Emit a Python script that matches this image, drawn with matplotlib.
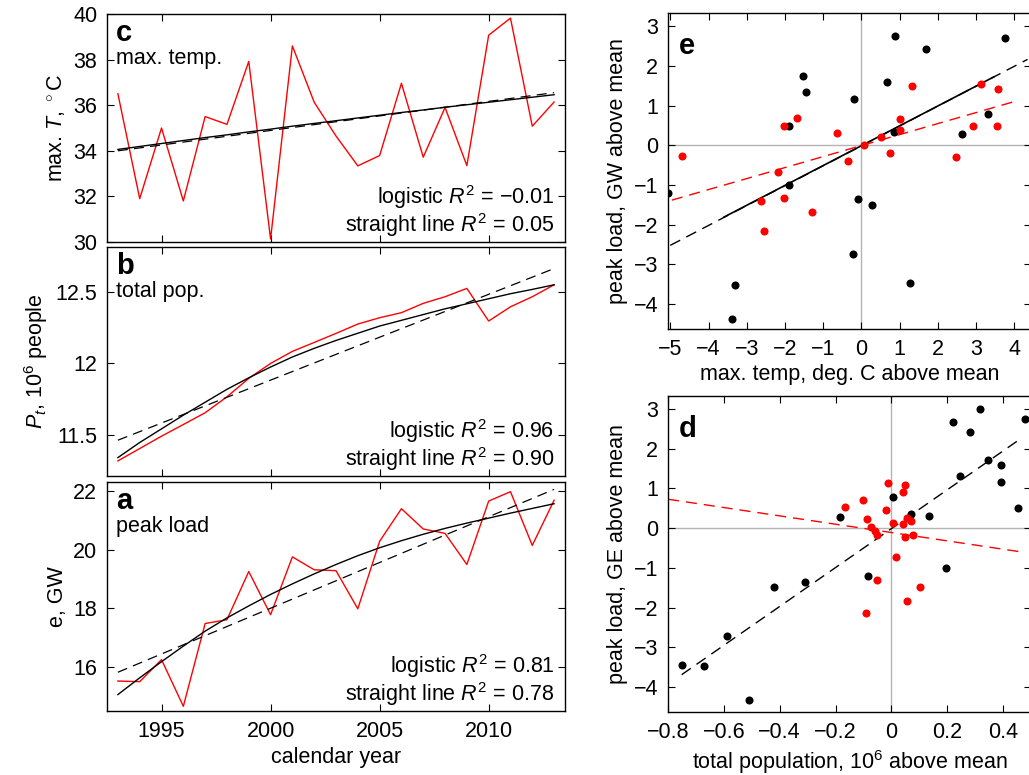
import numpy as np
import matplotlib
matplotlib.use("Agg")
from matplotlib import pyplot as plt

plt.rcParams["font.family"] = ["Liberation Sans", "DejaVu Sans"]
plt.rcParams["mathtext.fontset"] = "custom"
plt.rcParams["mathtext.rm"] = "Liberation Sans"
plt.rcParams["mathtext.it"] = "Liberation Sans:italic"
plt.rcParams["axes.unicode_minus"] = True

# time series, 1993-2013
years = list(range(1993, 2014))
max_temp = [36.5, 31.9, 35.0, 31.8, 35.5, 35.16, 37.92, 30.13, 38.6, 36.13, 34.65,
            33.34, 33.79, 36.96, 33.72, 35.9, 33.35, 39.07, 39.82, 35.08, 36.14]
temp_logistic = [34.06, 34.19, 34.32, 34.45, 34.58, 34.70, 34.83, 34.95, 35.08, 35.20, 35.32,
                 35.44, 35.56, 35.68, 35.79, 35.91, 36.02, 36.13, 36.24, 36.35, 36.46]
temp_line = [34.0, 36.55]

total_pop = [11.322, 11.408, 11.494, 11.575, 11.657, 11.768, 11.896, 12.0, 12.084, 12.146, 12.209,
             12.274, 12.318, 12.353, 12.418, 12.464, 12.522, 12.295, 12.394, 12.464, 12.547]
pop_logistic = [11.345, 11.45, 11.545, 11.64, 11.73, 11.82, 11.90, 11.975, 12.045, 12.105, 12.16,
                12.21, 12.26, 12.30, 12.34, 12.38, 12.415, 12.45, 12.485, 12.515, 12.547]
pop_line = [11.466, 12.66]

peak_load = [15.52, 15.5, 16.25, 14.66, 17.48, 17.61, 19.25, 17.78, 19.75, 19.31, 19.28,
             17.98, 20.28, 21.39, 20.7, 20.55, 19.49, 21.65, 21.97, 20.14, 21.68]
load_logistic = [15.06, 15.63, 16.18, 16.71, 17.22, 17.67, 18.08, 18.47, 18.83, 19.17, 19.49,
                 19.79, 20.06, 20.30, 20.52, 20.72, 20.90, 21.07, 21.24, 21.40, 21.56]
load_line = [15.82, 22.05]

# anomalies vs max. temp (panel e)
e_black_x = [-5.05, -1.54, -1.46, -1.90, -1.90, -0.20, -0.10, 0.88, 0.68, 0.86, 1.69,
             2.64, 3.32, 3.76, -0.22, 0.28, -3.30, -3.39, 1.28]
e_black_y = [-1.21, 1.75, 1.34, 0.50, -1.0, 1.17, -1.35, 2.77, 1.60, 0.34, 2.44,
             0.30, 0.79, 2.70, -2.73, -1.51, -3.52, -4.37, -3.47]
e_red_x = [-4.69, -2.02, -1.69, -0.64, -2.19, -0.34, 0.08, 0.51, 0.76, 1.00, 1.02,
           1.33, 2.49, 2.91, 3.12, 3.58, 3.55, -2.63, -2.03, -2.54, -1.30]
e_red_y = [-0.26, 0.48, 0.70, 0.31, -0.67, -0.40, 0.02, 0.22, -0.19, 0.66, 0.39,
           1.50, -0.30, 0.48, 1.56, 1.43, 0.50, -1.40, -1.33, -2.16, -1.67]
e_black_fit_x = [-5.0, 4.35]
e_black_fit_y = [-2.52, 2.17]
e_black_core_x = [-3.6, 3.47]
e_black_core_y = [-1.81, 1.73]
e_red_fit_x = [-4.96, 4.09]
e_red_fit_y = [-1.38, 1.13]

# anomalies vs total population (panel d)
d_black_x = [-0.183, 0.007, 0.072, 0.135, 0.220, 0.280, 0.317, 0.479, 0.245, 0.346, 0.392,
             0.394, 0.453, 0.194, -0.084, -0.308, -0.419, -0.751, -0.671, -0.590, -0.510]
d_black_y = [0.28, 0.79, 0.35, 0.31, 2.67, 2.42, 3.0, 2.74, 1.32, 1.73, 1.58,
             1.16, 0.50, -1.0, -1.2, -1.35, -1.49, -3.44, -3.48, -2.71, -4.32]
d_red_x = [-0.165, -0.101, -0.086, -0.073, -0.060, -0.050, -0.019, -0.011, 0.004, 0.043, 0.047,
           0.043, 0.057, 0.072, 0.050, 0.078, 0.018, -0.053, -0.090, 0.057, 0.101]
d_red_y = [0.54, 0.70, 0.22, 0.03, -0.07, -0.18, 0.47, 1.15, 0.14, 0.90, 1.10,
           0.10, 0.25, 0.18, -0.22, -0.18, -0.73, -1.30, -2.13, -1.83, -1.47]
d_black_fit_x = [-0.751, 0.462]
d_black_fit_y = [-3.69, 2.25]
d_red_fit_x = [-0.8, 0.477]
d_red_fit_y = [0.73, -0.61]

FS = 15.5
DASH = (8, 5)
W, H = 1029, 775

fig = plt.figure(figsize=(W / 100, H / 100), dpi=100)


def box(l, t, r, b):
    return [l / W, 1 - b / H, (r - l) / W, (b - t) / H]


def style(ax):
    ax.tick_params(direction="in", top=True, right=True, labelsize=FS, length=5, width=0.8, pad=7)
    for s in ax.spines.values():
        s.set_linewidth(1.0)


def series_panel(ax, y, ylog, yline, letter, title, r2a, r2b):
    ax.plot(years, y, color="red", lw=1.0)
    ax.plot(years, ylog, color="black", lw=1.0)
    ax.plot([years[0], years[-1]], yline, color="black", lw=0.9, dashes=DASH)
    ax.set_xlim(1992.5, 2013.5)
    ax.set_xticks([1995, 2000, 2005, 2010])
    style(ax)
    ax.text(0.02, 0.88, letter, transform=ax.transAxes, fontsize=21, fontweight="bold")
    ax.text(0.02, 0.78, title, transform=ax.transAxes, fontsize=FS)
    ax.text(0.977, 0.165, r"logistic $R^2$ = " + r2a, transform=ax.transAxes,
            fontsize=FS, ha="right")
    ax.text(0.977, 0.045, r"straight line $R^2$ = " + r2b, transform=ax.transAxes,
            fontsize=FS, ha="right")


axc = fig.add_axes(box(107, 14, 565, 242))
series_panel(axc, max_temp, temp_logistic, temp_line, "c", "max. temp.", "\u22120.01", "0.05")
axc.set_ylim(30, 40)
axc.set_yticks([30, 32, 34, 36, 38, 40])
axc.set_xticklabels([])
axc.set_ylabel(r"max. $T$, $^\circ$C", fontsize=FS)

axb = fig.add_axes(box(107, 247, 565, 476))
series_panel(axb, total_pop, pop_logistic, pop_line, "b", "total pop.", "0.96", "0.90")
axb.set_ylim(11.217, 12.81)
axb.set_yticks([11.5, 12, 12.5])
axb.set_yticklabels(["11.5", "12", "12.5"])
axb.set_xticklabels([])
axb.set_ylabel(r"$P_t$, 10$^6$ people", fontsize=FS)

axa = fig.add_axes(box(107, 482, 565, 711))
series_panel(axa, peak_load, load_logistic, load_line, "a", "peak load", "0.81", "0.78")
axa.set_ylim(14.5, 22.3)
axa.set_yticks([16, 18, 20, 22])
axa.set_ylabel("e, GW", fontsize=FS)
axa.set_xlabel("calendar year", fontsize=FS, labelpad=4)

# panel e
axe = fig.add_axes(box(668, 13, 1031, 329))
axe.axhline(0, color="#b4b4b4", lw=1.0, zorder=0)
axe.axvline(0, color="#b4b4b4", lw=1.0, zorder=0)
axe.plot(e_black_fit_x, e_black_fit_y, color="black", lw=1.0, dashes=DASH)
axe.plot(e_black_core_x, e_black_core_y, color="black", lw=1.2)
axe.plot(e_red_fit_x, e_red_fit_y, color="red", lw=1.0, dashes=DASH)
axe.plot(e_black_x, e_black_y, "o", color="black", ms=5.8, mew=0)
axe.plot(e_red_x, e_red_y, "o", color="red", ms=5.8, mew=0)
axe.set_xlim(-5.06, 4.44)
axe.set_ylim(-4.63, 3.34)
axe.set_xticks(range(-5, 5))
axe.set_yticks(range(-4, 4))
style(axe)
axe.text(0.03, 0.87, "e", transform=axe.transAxes, fontsize=21, fontweight="bold")
axe.set_xlabel("max. temp, deg. C above mean", fontsize=FS, labelpad=3)
axe.set_ylabel("peak load, GW above mean", fontsize=FS)

# panel d
axd = fig.add_axes(box(668, 396, 1031, 712))
axd.axhline(0, color="#b4b4b4", lw=1.0, zorder=0)
axd.axvline(0, color="#b4b4b4", lw=1.0, zorder=0)
axd.plot(d_black_fit_x, d_black_fit_y, color="black", lw=1.0, dashes=DASH)
axd.plot(d_red_fit_x, d_red_fit_y, color="red", lw=1.0, dashes=DASH)
axd.plot(d_black_x, d_black_y, "o", color="black", ms=5.8, mew=0)
axd.plot(d_red_x, d_red_y, "o", color="red", ms=5.8, mew=0)
axd.set_xlim(-0.8, 0.5)
axd.set_ylim(-4.63, 3.33)
dx = [-0.8, -0.6, -0.4, -0.2, 0, 0.2, 0.4]
axd.set_xticks(dx)
axd.set_xticklabels(["\u22120.8", "\u22120.6", "\u22120.4", "\u22120.2", "0", "0.2", "0.4"])
axd.set_yticks(range(-4, 4))
style(axd)
axd.text(0.03, 0.87, "d", transform=axd.transAxes, fontsize=21, fontweight="bold")
axd.set_xlabel(r"total population, 10$^6$ above mean", fontsize=FS, labelpad=4)
axd.set_ylabel("peak load, GE above mean", fontsize=FS)

fig.savefig("out.png", dpi=100)
